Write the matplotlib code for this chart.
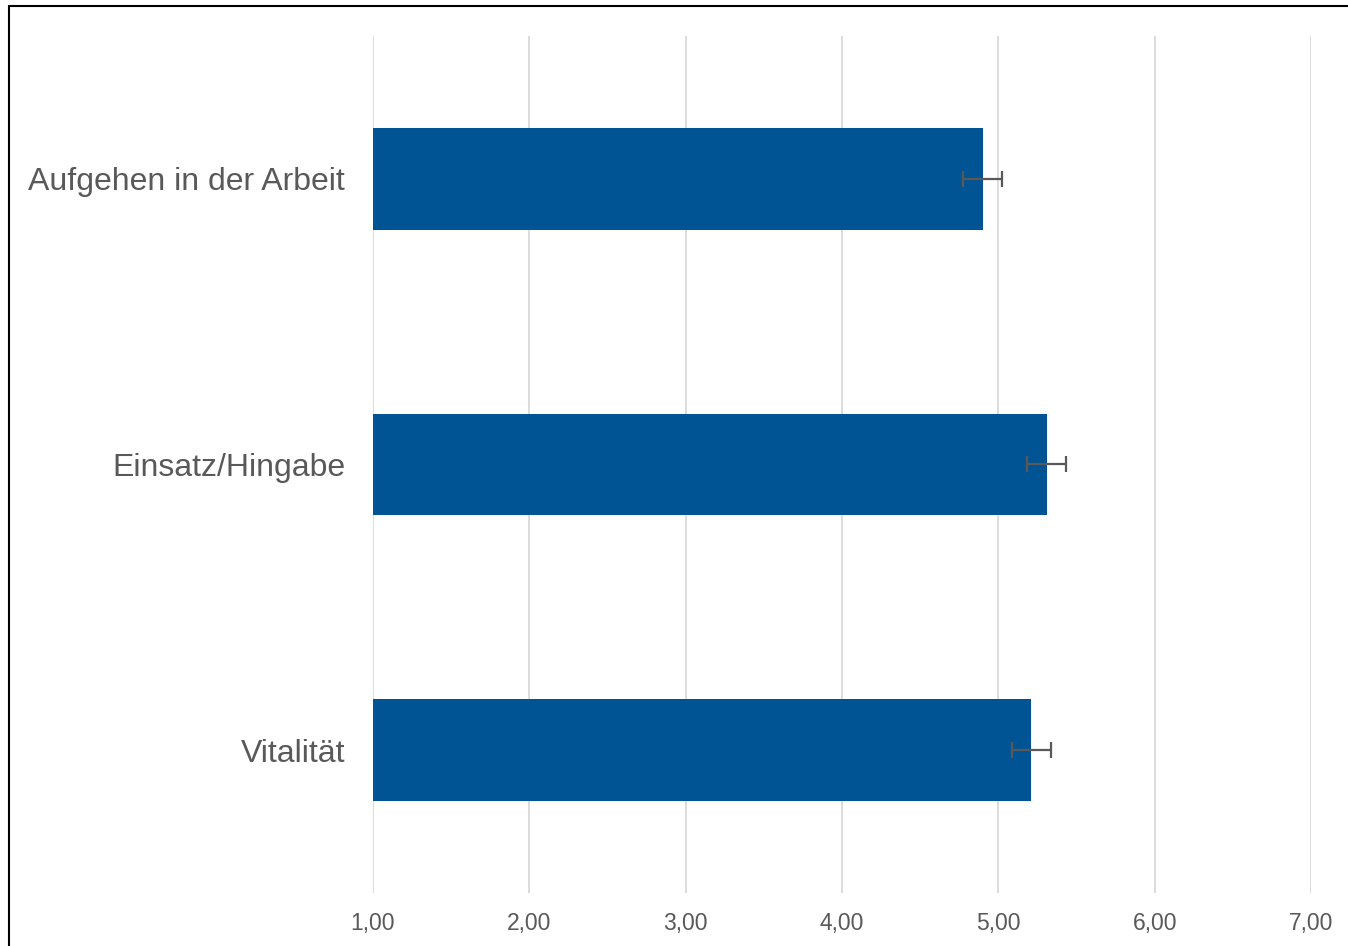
import matplotlib
matplotlib.use("Agg")
import matplotlib.pyplot as plt
from matplotlib.patches import Rectangle

categories = ["Vitalität", "Einsatz/Hingabe", "Aufgehen in der Arbeit"]
values = [5.21, 5.31, 4.90]
errors = [0.125, 0.125, 0.125]
xticks = [1, 2, 3, 4, 5, 6, 7]
xticklabels = ["1,00", "2,00", "3,00", "4,00", "5,00", "6,00", "7,00"]

plt.rcParams['font.family'] = ['Liberation Sans', 'DejaVu Sans']

fig = plt.figure(figsize=(13.48, 9.46), dpi=100)
ax = fig.add_axes([373/1348, 53/946, (1311-373)/1348, (893-36)/946])

ypos = list(range(len(categories)))
base = 1.0
ax.barh(ypos, [v - base for v in values], left=base, height=0.355,
        color="#005493", zorder=2)
ax.errorbar(values, ypos, xerr=errors, fmt="none", ecolor="#595959",
            elinewidth=1.6, capsize=5.5, capthick=1.6, zorder=3)

ax.set_xlim(1, 7)
ax.set_ylim(-0.5, 2.5)
ax.set_xticks(xticks)
ax.set_xticklabels(xticklabels, fontsize=16.5, color="#595959")
ax.set_yticks(ypos)
ax.set_yticklabels(categories, fontsize=23, color="#595959")
ax.tick_params(axis='x', length=0, pad=14)
ax.tick_params(axis='y', length=0, pad=20)
ax.grid(axis='x', color="#d9d9d9", linewidth=1.3, zorder=0)
ax.set_axisbelow(True)
for s in ax.spines.values():
    s.set_visible(False)

fig.patches.append(Rectangle((9/1348, -0.01), 1.02, 1 - 6/946 + 0.01,
                             transform=fig.transFigure, fill=False,
                             edgecolor="black", linewidth=1.5))

fig.savefig("out.png", dpi=100)
